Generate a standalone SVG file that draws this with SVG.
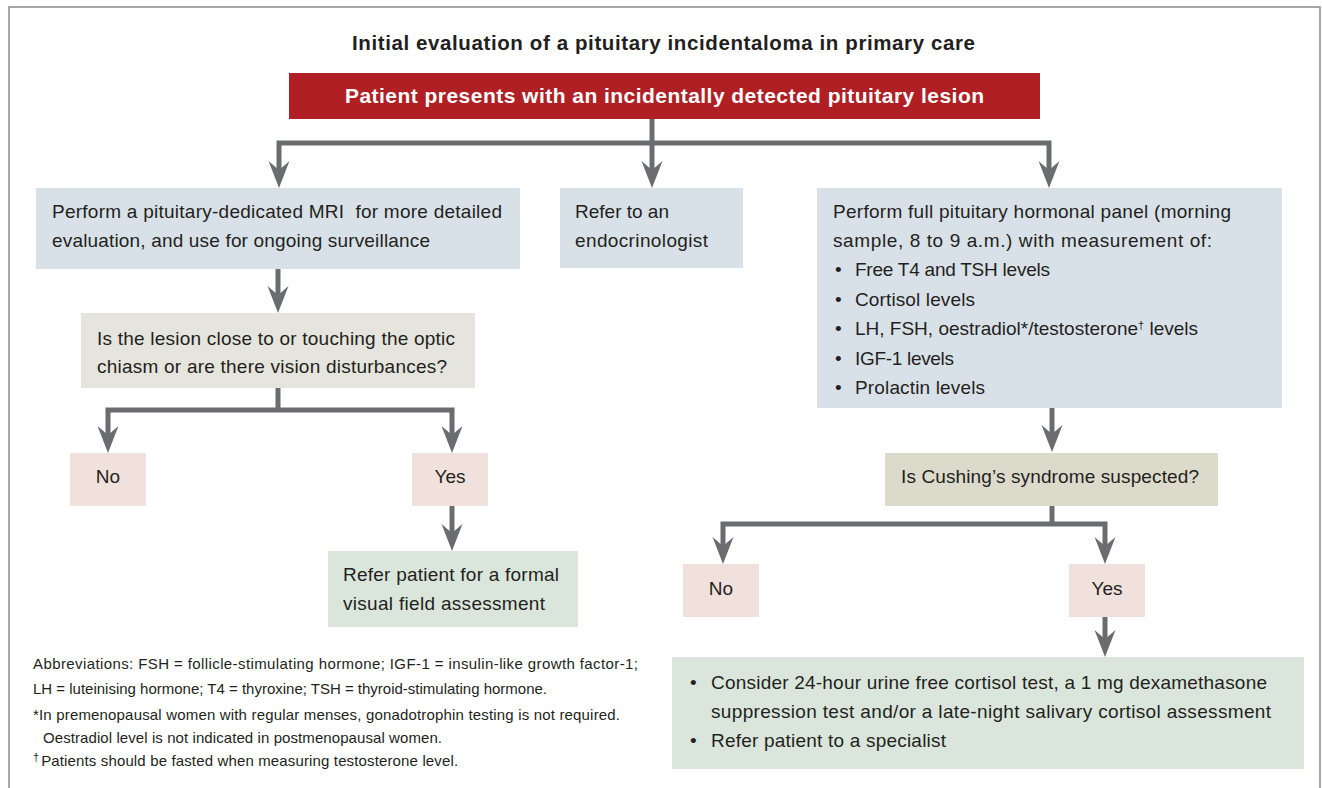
<svg xmlns="http://www.w3.org/2000/svg" width="1322" height="788" viewBox="0 0 1322 788">
<defs>
<marker id="ah" viewBox="0 -11 28 22" markerWidth="28" markerHeight="22" markerUnits="userSpaceOnUse" refX="11" refY="0" orient="auto">
<path d="M0,-10.5 L27,0 L0,10.5 L9,0 Z" fill="#6b6c70"/>
</marker>
<style>
text{font-family:"Liberation Sans",Arial,sans-serif;fill:#231f20}
.t{font-size:19px}
.fn{font-size:15px}
.ttl{font-size:20.5px;font-weight:bold}
.hd{font-size:21px;font-weight:bold;fill:#ffffff}
.sup{font-size:11px}
.conn path{fill:none;stroke:#6b6c70;stroke-width:5;marker-end:url(#ah)}
.conn path.nm{marker-end:none}
.blue{fill:#d9e1e8}
.q1{fill:#e5e4dd}
.q2{fill:#dcdacb}
.pk{fill:#f0e1dc}
.gr{fill:#dae6dc}
</style>
</defs>
<rect width="1322" height="788" fill="#ffffff"/>
<path d="M9,788 V7 H1320 V788" fill="none" stroke="#8a8a8a" stroke-width="1.5"/>
<text id="title" class="ttl" x="352" y="50" textLength="623">Initial evaluation of a pituitary incidentaloma in primary care</text>

<g class="conn" id="connectors">
<path d="M652,119 V172"/>
<path d="M652,143 H279 V172"/>
<path d="M652,143 H1049 V172"/>
<path d="M278,269 V297"/>
<path class="nm" d="M278,388 V410"/>
<path d="M278,410 H108 V437"/>
<path d="M278,410 H452 V437"/>
<path d="M452,506 V535"/>
<path d="M1052,408 V436"/>
<path class="nm" d="M1052,506 V524"/>
<path d="M1052,524 H723 V548"/>
<path d="M1052,524 H1105 V548"/>
<path d="M1105,617 V641"/>
</g>

<g id="start">
<rect x="289" y="73" width="751" height="46" fill="#b01f24"/>
<text class="hd" x="345" y="103" textLength="639">Patient presents with an incidentally detected pituitary lesion</text>
</g>

<g id="mri">
<rect class="blue" x="36" y="188" width="484" height="81"/>
<text class="t" x="52" y="218" textLength="450" style="white-space:pre">Perform a pituitary-dedicated MRI  for more detailed</text>
<text class="t" x="52" y="247" textLength="378">evaluation, and use for ongoing surveillance</text>
</g>

<g id="endo">
<rect class="blue" x="560" y="188" width="183" height="80"/>
<text class="t" x="575" y="218" textLength="94">Refer to an</text>
<text class="t" x="575" y="247" textLength="133">endocrinologist</text>
</g>

<g id="panel">
<rect class="blue" x="817" y="188" width="465" height="220"/>
<text class="t" x="833" y="218" textLength="398">Perform full pituitary hormonal panel (morning</text>
<text class="t" x="833" y="247" textLength="379">sample, 8 to 9 a.m.) with measurement of:</text>
<text class="t" x="835" y="276">•</text><text class="t" x="855" y="276" textLength="195">Free T4 and TSH levels</text>
<text class="t" x="835" y="306">•</text><text class="t" x="855" y="306" textLength="120">Cortisol levels</text>
<text class="t" x="835" y="335">•</text><text class="t" x="855" y="335">LH, FSH, oestradiol*/testosterone<tspan class="sup" dy="-6">†</tspan><tspan dy="6"> levels</tspan></text>
<text class="t" x="835" y="365">•</text><text class="t" x="855" y="365" textLength="99">IGF-1 levels</text>
<text class="t" x="835" y="394">•</text><text class="t" x="855" y="394" textLength="130">Prolactin levels</text>
</g>

<g id="q-chiasm">
<rect class="q1" x="81" y="313" width="394" height="75"/>
<text class="t" x="97" y="345" textLength="358">Is the lesion close to or touching the optic</text>
<text class="t" x="97" y="373" textLength="350">chiasm or are there vision disturbances?</text>
</g>

<g id="no1">
<rect class="pk" x="70" y="453" width="76" height="53"/>
<text class="t" x="108" y="483" text-anchor="middle">No</text>
</g>
<g id="yes1">
<rect class="pk" x="412" y="453" width="76" height="53"/>
<text class="t" x="450" y="483" text-anchor="middle">Yes</text>
</g>

<g id="visual">
<rect class="gr" x="328" y="551" width="250" height="76"/>
<text class="t" x="343" y="581" textLength="216">Refer patient for a formal</text>
<text class="t" x="343" y="610" textLength="202">visual field assessment</text>
</g>

<g id="q-cushing">
<rect class="q2" x="885" y="453" width="333" height="53"/>
<text class="t" x="901" y="483" textLength="298">Is Cushing’s syndrome suspected?</text>
</g>

<g id="no2">
<rect class="pk" x="683" y="564" width="76" height="53"/>
<text class="t" x="721" y="595" text-anchor="middle">No</text>
</g>
<g id="yes2">
<rect class="pk" x="1069" y="564" width="76" height="53"/>
<text class="t" x="1107" y="595" text-anchor="middle">Yes</text>
</g>

<g id="cushing-tests">
<rect class="gr" x="672" y="657" width="632" height="112"/>
<text class="t" x="690" y="689">•</text><text class="t" x="711" y="689" textLength="556">Consider 24-hour urine free cortisol test, a 1 mg dexamethasone</text>
<text class="t" x="711" y="718" textLength="560">suppression test and/or a late-night salivary cortisol assessment</text>
<text class="t" x="690" y="747">•</text><text class="t" x="711" y="747" textLength="235">Refer patient to a specialist</text>
</g>

<g id="footnotes">
<text class="fn" x="33" y="669" textLength="605">Abbreviations: FSH = follicle-stimulating hormone; IGF-1 = insulin-like growth factor-1;</text>
<text class="fn" x="33" y="694" textLength="514">LH = luteinising hormone; T4 = thyroxine; TSH = thyroid-stimulating hormone.</text>
<text class="fn" x="33" y="720" textLength="587">*In premenopausal women with regular menses, gonadotrophin testing is not required.</text>
<text class="fn" x="43" y="743" textLength="399">Oestradiol level is not indicated in postmenopausal women.</text>
<text class="fn" x="33" y="766"><tspan class="sup" dy="-5">†</tspan><tspan dx="2" dy="5" textLength="417">Patients should be fasted when measuring testosterone level.</tspan></text>
</g>
</svg>
